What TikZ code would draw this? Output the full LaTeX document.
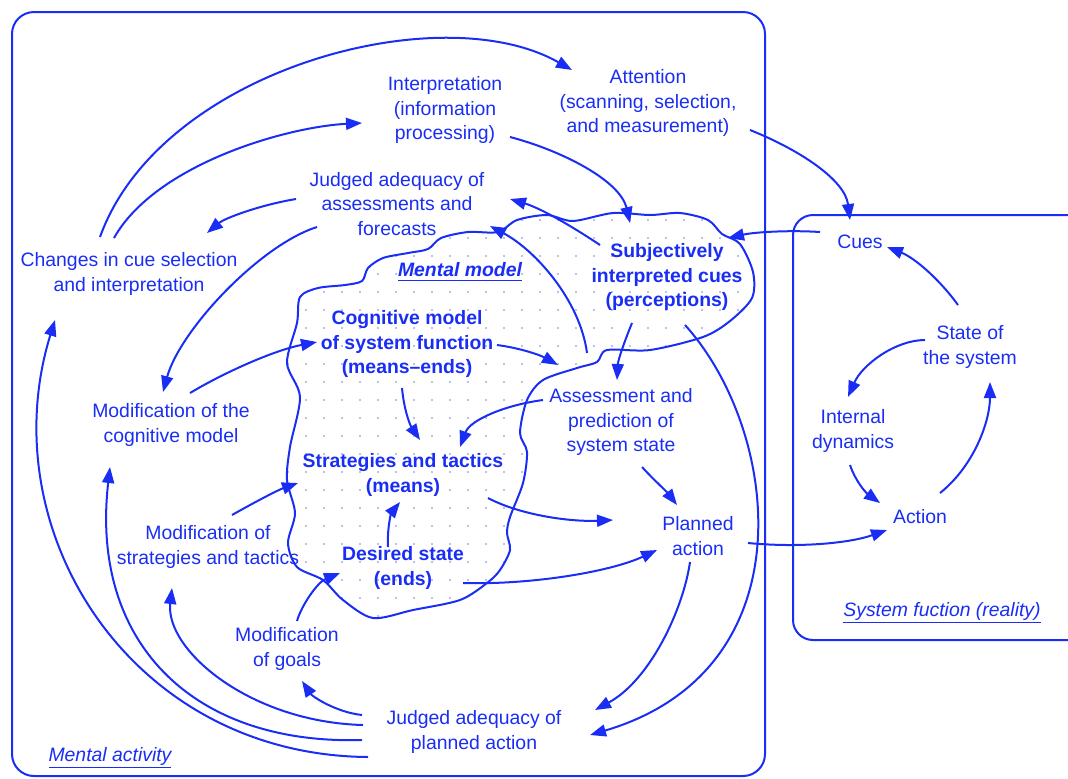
\documentclass[tikz,border=0pt]{standalone}
\usepackage{fontspec}
\setmainfont{Liberation Sans}
\usetikzlibrary{arrows.meta,patterns.meta}
\definecolor{mblue}{RGB}{25,45,245}
\definecolor{mdot}{RGB}{120,130,215}
\begin{document}
\begin{tikzpicture}[x=0.5pt,y=-0.5pt,
  txt/.style={align=center,text=mblue,inner sep=0pt,font=\fontsize{9.7}{12.4}\selectfont},
  btxt/.style={align=center,text=mblue,inner sep=0pt,font=\fontsize{9.7}{12.2}\selectfont\bfseries},
  conn/.style={draw=mblue,line width=1pt,-{Triangle[length=8pt,width=6pt]}},
  frame/.style={draw=mblue,line width=1pt},
]
\useasboundingbox (0,0) rectangle (1068,778);
% frames
\draw[frame,rounded corners=11pt] (12,12) rectangle (765,776);
\draw[frame,rounded corners=10pt] (1085,215) -- (793,215) -- (793,640) -- (1085,640);
% cloud
\draw[frame,pattern={Dots[distance=9pt,radius=0.4pt]},pattern color=mdot]
  plot[smooth cycle,tension=0.5] coordinates {
  (300,297) (318,288) (345,285) (362,281) (368,268) (383,258) (408,253) (428,249)
  (441,238) (468,232) (498,232) (517,220) (547,215) (573,221) (613,213) (650,215)
  (680,213) (708,220) (722,234) (740,244) (753,272) (752,298) (730,321) (703,337)
  (650,350) (607,350) (597,362) (577,368) (543,380) (527,400) (520,433) (527,452)
  (523,483) (510,517) (507,533) (510,550) (500,570) (487,583) (460,600) (413,610)
  (373,618) (343,600) (323,580) (297,567) (288,543) (295,513) (287,480) (290,447)
  (300,397) (287,363) (297,323)};
% nodes
\node[txt] (interp) at (445,110) {Interpretation\\(information\\processing)};
\node[txt] (attn) at (648,103) {Attention\\(scanning, selection,\\and measurement)};
\node[txt] (jaf) at (397,204) {Judged adequacy of\\assessments and\\forecasts};
\node[txt] (changes) at (129,274) {Changes in cue selection\\and interpretation};
\node[btxt] (mm) at (460,272) {\underline{\itshape Mental model}};
\node[btxt] (subj) at (667,277) {Subjectively\\interpreted cues\\(perceptions)};
\node[txt] (cues) at (860,242) {Cues};
\node[btxt] (cog) at (407,344) {Cognitive model\\of system function\\(means--ends)};
\node[txt] (state) at (970,347) {State of\\the system};
\node[txt] (modcog) at (171,425) {Modification of the\\cognitive model};
\node[txt] (assess) at (621,422) {Assessment and\\prediction of\\system state};
\node[txt] (intdyn) at (853,431) {Internal\\dynamics};
\node[btxt] (strat) at (403,475) {Strategies and tactics\\(means)};
\node[txt] (modstrat) at (208,547) {Modification of\\strategies and tactics};
\node[txt] (planned) at (698,536) {Planned\\action};
\node[txt] (action) at (920,517) {Action};
\node[btxt] (desired) at (403,568) {Desired state\\(ends)};
\node[txt] (modgoals) at (287,649) {Modification\\of goals};
\node[txt] (jpa) at (474,732) {Judged adequacy of\\planned action};
\node[txt] (mact) at (110,758) {\underline{\itshape Mental activity}};
\node[txt] (sysf) at (942,613) {\underline{\itshape System fuction (reality)}};
% connectors
\draw[conn] ([shift={(-29,-37)}]changes.center) .. controls +(60,-167) and +(-132,-75) .. ([shift={(-76,-33)}]attn.center);
\draw[conn] ([shift={(-15,-36)}]changes.center) .. controls +(41,-73) and +(-77,4) .. ([shift={(-83,13)}]interp.center);
\draw[conn] ([shift={(65,27)}]interp.center) .. controls +(50,13) and +(-10,-43) .. ([shift={(-37,-54)}]subj.center);
\draw[conn] ([shift={(102,27)}]attn.center) .. controls +(50,20) and +(-5,-40) .. ([shift={(-10,-22)}]cues.center);
\draw[conn] ([shift={(-40,-10)}]cues.center) .. controls +(-30,-2) and +(27,-6) .. ([shift={(61,-39)}]subj.center);
\draw[conn] ([shift={(-12,-42)}]state.center) .. controls +(-18,-25) and +(28,11) .. ([shift={(27,5)}]cues.center);
\draw[conn] ([shift={(-45,-7)}]state.center) .. controls +(-30,0) and +(14,-32) .. ([shift={(-5,-34)}]intdyn.center);
\draw[conn] ([shift={(-3,34)}]intdyn.center) .. controls +(5,15) and +(-15,-11) .. ([shift={(-40,-14)}]action.center);
\draw[conn] ([shift={(20,-24)}]action.center) .. controls +(35,-28) and +(0,38) .. ([shift={(20,35)}]state.center);
\draw[conn] ([shift={(50,7)}]planned.center) .. controls +(52,5) and +(-37,13) .. ([shift={(-33,13)}]action.center);
\draw[conn] ([shift={(-67,-32)}]subj.center) .. controls +(-30,-20) and +(30,9) .. ([shift={(113,-5)}]jaf.center);
\draw[conn] ([shift={(-34,-69)}]assess.center) .. controls +(-7,-53) and +(45,24) .. ([shift={(93,22)}]jaf.center);
\draw[conn] ([shift={(-101,-5)}]jaf.center) .. controls +(-36,6) and +(18,-15) .. ([shift={(78,-41)}]changes.center);
\draw[conn] ([shift={(-80,23)}]jaf.center) .. controls +(-57,18) and +(17,-62) .. ([shift={(-8,-33)}]modcog.center);
\draw[conn] ([shift={(19,-32)}]modcog.center) .. controls +(35,-21) and +(-42,8) .. ([shift={(-90,-2)}]cog.center);
\draw[conn] ([shift={(90,1)}]cog.center) .. controls +(23,3) and +(-18,-10) .. ([shift={(-63,-57)}]assess.center);
\draw[conn] ([shift={(-5,44)}]cog.center) .. controls +(2,22) and +(-10,-15) .. ([shift={(17,-35)}]strat.center);
\draw[conn] ([shift={(-78,-22)}]assess.center) .. controls +(-38,5) and +(10,-27) .. ([shift={(57,-28)}]strat.center);
\draw[conn] ([shift={(-35,46)}]subj.center) .. controls +(-7,17) and +(1,-20) .. ([shift={(-4,-42)}]assess.center);
\draw[conn] ([shift={(21,45)}]assess.center) .. controls +(10,11) and +(-10,-13) .. ([shift={(-21,-31)}]planned.center);
\draw[conn] ([shift={(85,23)}]strat.center) .. controls +(32,17) and +(-43,2) .. ([shift={(-85,-16)}]planned.center);
\draw[conn] ([shift={(-15,-21)}]desired.center) .. controls +(-1,-22) and +(-8,10) .. ([shift={(-3,27)}]strat.center);
\draw[conn] ([shift={(60,15)}]desired.center) .. controls +(67,2) and +(-47,22) .. ([shift={(-41,14)}]planned.center);
\draw[conn] ([shift={(24,-32)}]modstrat.center) .. controls +(23,-13) and +(-20,7) .. ([shift={(-105,8)}]strat.center);
\draw[conn] ([shift={(10,-28)}]modgoals.center) .. controls +(5,-17) and +(-22,9) .. ([shift={(-63,5)}]desired.center);
\draw[conn] ([shift={(18,48)}]subj.center) .. controls +(95,105) and +(220,-65) .. ([shift={(116,3)}]jpa.center);
\draw[conn] ([shift={(-8,26)}]planned.center) .. controls +(-7,48) and +(55,-30) .. ([shift={(121,-22)}]jpa.center);
\draw[conn] ([shift={(-112,-17)}]jpa.center) .. controls +(-27,-3) and +(10,15) .. ([shift={(15,32)}]modgoals.center);
\draw[conn] ([shift={(-111,-7)}]jpa.center) .. controls +(-113,-3) and +(-7,62) .. ([shift={(-36,41)}]modstrat.center);
\draw[conn] ([shift={(-112,8)}]jpa.center) .. controls +(-172,5) and +(-20,173) .. ([shift={(-61,42)}]modcog.center);
\draw[conn] ([shift={(-106,25)}]jpa.center) .. controls +(-238,-2) and +(-65,210) .. ([shift={(-74,46)}]changes.center);
\end{tikzpicture}
\end{document}
